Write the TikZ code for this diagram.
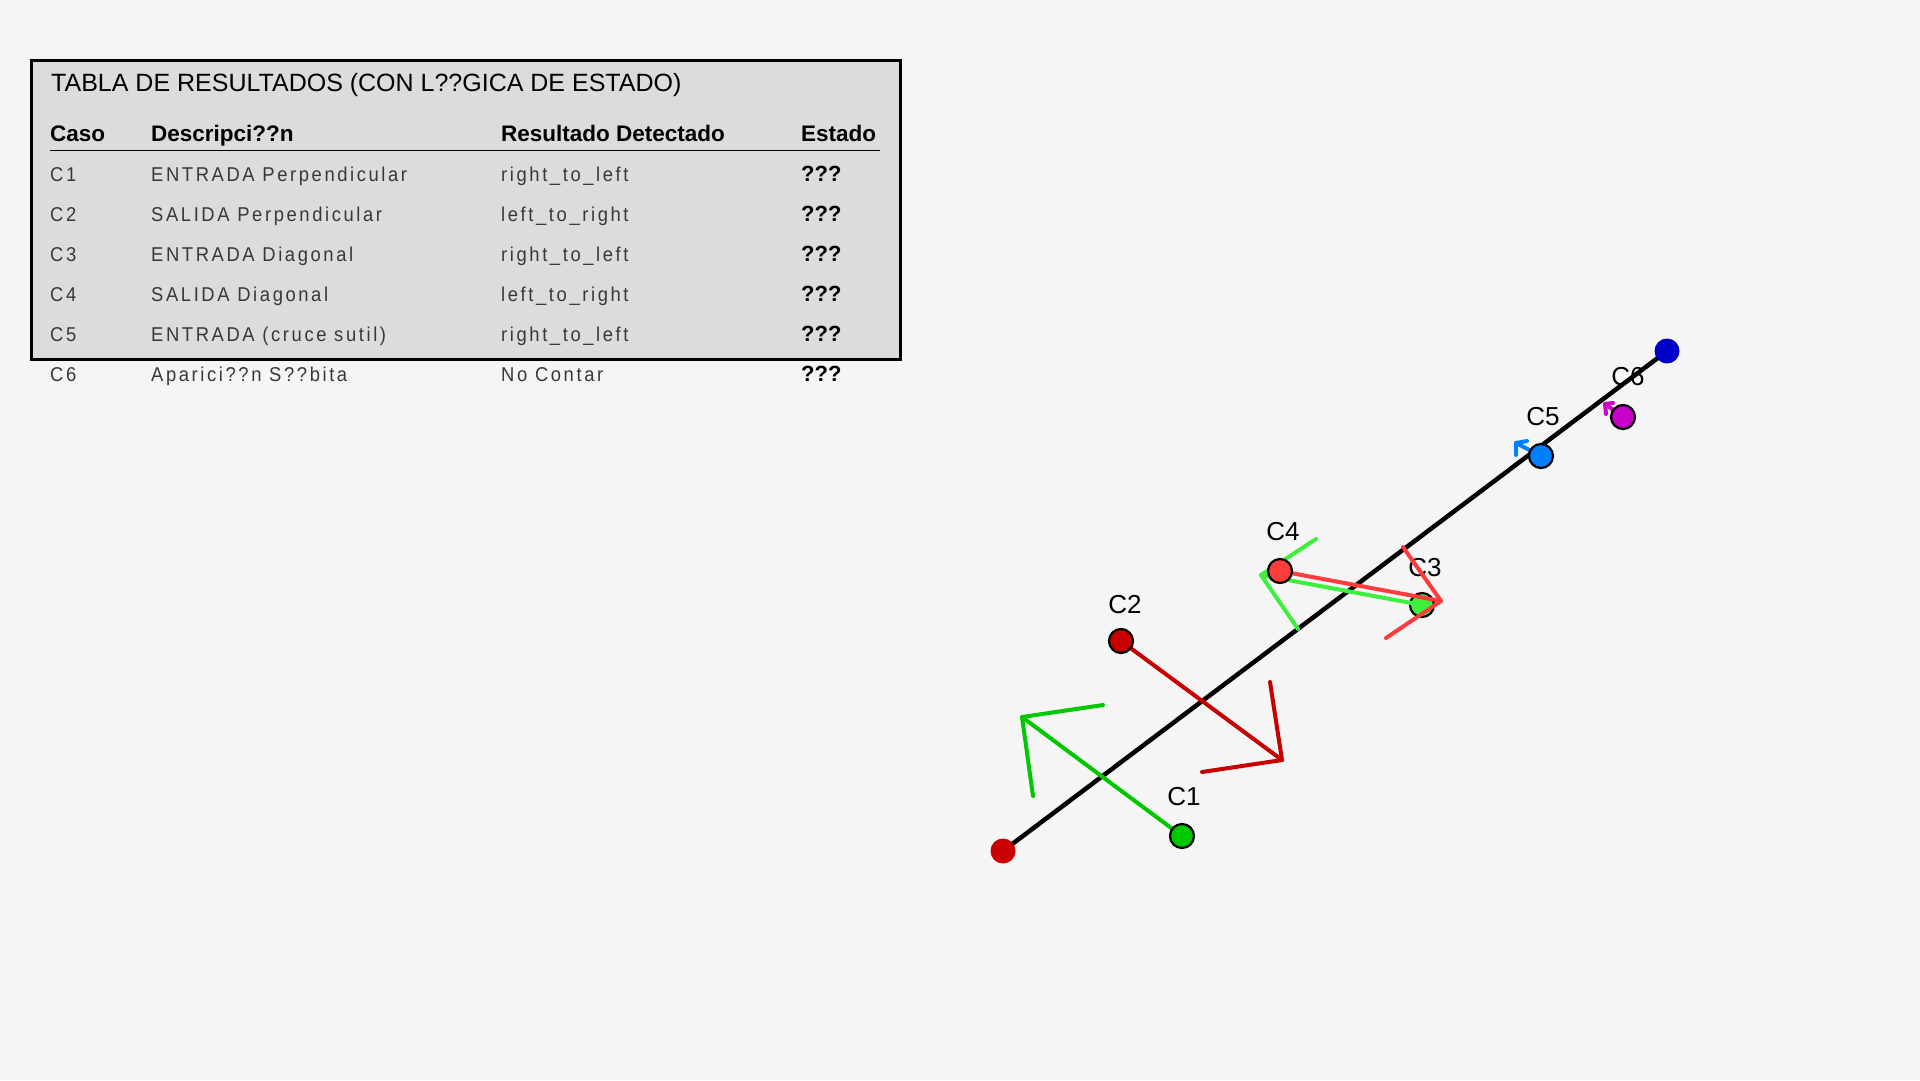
\documentclass[tikz,border=0pt]{standalone}
\usepackage{fontspec}
\setmainfont{Liberation Sans}
\newfontfamily\rowfont[FakeStretch=0.92,LetterSpace=13]{Liberation Sans}
\definecolor{bg}{HTML}{F5F5F5}
\definecolor{tabfill}{HTML}{DCDCDC}
\definecolor{rowgrey}{HTML}{383838}
\definecolor{dred}{HTML}{C80000}
\definecolor{dblue}{HTML}{0000C8}
\definecolor{greenA}{HTML}{00C800}
\definecolor{greenB}{HTML}{3CF03C}
\definecolor{redB}{HTML}{FF3C3C}
\definecolor{blueB}{HTML}{0080FF}
\definecolor{magB}{HTML}{C800C8}
\begin{document}
\begin{tikzpicture}[x=1pt,y=-1pt,
  titletxt/.style={anchor=base west,inner sep=0pt,font=\fontsize{25}{30}\selectfont},
  headtxt/.style={anchor=base west,inner sep=0pt,font=\fontsize{22.5}{27}\selectfont\bfseries},
  rowtxt/.style={anchor=base west,inner sep=0pt,text=rowgrey,font=\fontsize{20}{24}\rowfont},
  qtxt/.style={anchor=base west,inner sep=0pt,font=\fontsize{22}{26}\selectfont\bfseries},
  lbl/.style={anchor=center,inner sep=0pt,font=\fontsize{26}{30}\selectfont},
  casedot/.style={circle,draw=black,line width=2.2pt,minimum size=24pt,inner sep=0pt},
  enddot/.style={circle,minimum size=25pt,inner sep=0pt},
  arr/.style={line width=4pt,line cap=round,line join=round},
  smallarr/.style={line width=4pt,line cap=round,line join=round}
]
% canvas
\path[fill=bg] (0,0) rectangle (1920,1080);
\useasboundingbox (0,0) rectangle (1920,1080);

% ---------- table ----------
\draw[fill=tabfill,draw=black,line width=3pt] (31,60) rectangle (900,359);
\node[titletxt] (title) at (51,91.7) {TABLA DE RESULTADOS (CON L??GICA DE ESTADO)};
\node[headtxt] (hcaso) at (50,141.7) {Caso};
\node[headtxt] (hdesc) at (151,141.7) {Descripci??n};
\node[headtxt] (hres) at (501,141.7) {Resultado Detectado};
\node[headtxt] (hest) at (801,141.7) {Estado};
\coordinate (ulA) at (50,150.5);
\coordinate (ulB) at (880,150.5);
\draw[line width=1.6pt] (ulA) -- (ulB);

\foreach \k/\c/\d/\r in {0/C1/ENTRADA Perpendicular/right\_to\_left,
                         1/C2/SALIDA Perpendicular/left\_to\_right,
                         2/C3/ENTRADA Diagonal/right\_to\_left,
                         3/C4/SALIDA Diagonal/left\_to\_right,
                         4/C5/ENTRADA (cruce sutil)/right\_to\_left,
                         5/C6/Aparici??n S??bita/No Contar}{
  \node[rowtxt] (rc\k) at (50,181+40*\k) {\c};
  \node[rowtxt] (rd\k) at (151,181+40*\k) {\d};
  \node[rowtxt] (rr\k) at (501,181+40*\k) {\r};
  \node[qtxt] (rq\k) at (801,181+40*\k) {???};
}

% ---------- geometry ----------
\coordinate (pA) at (1003,851);
\coordinate (pB) at (1667,351);
\coordinate (p1) at (1182,836);
\coordinate (p2) at (1121,641);
\coordinate (p3) at (1422,605);
\coordinate (p4) at (1280,571);
\coordinate (p5) at (1541,456);
\coordinate (p6) at (1623,417);

% main line
\draw[line width=4.5pt,line cap=round] (pA) -- (pB);

% C3 dot (under arrows)
\node[casedot,fill=greenB] (c3) at (p3) {};

% labels
\node[lbl] (l1) at (1184,797) {C1};
\node[lbl] (l2) at (1125,605) {C2};
\node[lbl] (l3) at (1425,568) {C3};
\node[lbl] (l4) at (1283,532) {C4};
\node[lbl] (l5) at (1543,417) {C5};
\node[lbl] (l6) at (1628,377) {C6};

% C1 arrow
\coordinate (t1) at (1022,717);
\coordinate (b1a) at (1103,705);
\coordinate (b1b) at (1033,796);
\draw[arr,greenA] (p1) -- (t1);
\draw[arr,greenA] (b1a) -- (t1) -- (b1b);
% C2 arrow
\coordinate (t2) at (1282,760);
\coordinate (b2a) at (1270,682);
\coordinate (b2b) at (1202,772);
\draw[arr,dred] (p2) -- (t2);
\draw[arr,dred] (b2a) -- (t2) -- (b2b);
% C3 arrow
\coordinate (t3) at (1261,575);
\coordinate (b3a) at (1316,539);
\coordinate (b3b) at (1298,629);
\draw[arr,greenB] (c3.center) -- (t3);
\draw[arr,greenB] (b3a) -- (t3) -- (b3b);
% C4 arrow
\coordinate (t4) at (1441,601);
\coordinate (b4a) at (1403,547);
\coordinate (b4b) at (1386,638);
\draw[arr,redB] (p4) -- (t4);
\draw[arr,redB] (b4a) -- (t4) -- (b4b);
% C5 small arrow
\coordinate (t5) at (1516,443);
\coordinate (b5a) at (1516,455);
\coordinate (b5b) at (1527,441);
\draw[smallarr,blueB] (p5) -- (t5);
\draw[smallarr,blueB] (b5a) -- (t5) -- (b5b);
% C6 small arrow
\coordinate (t6) at (1605,404);
\coordinate (b6a) at (1606,414);
\coordinate (b6b) at (1613,403);
\draw[smallarr,magB] (p6) -- (t6);
\draw[smallarr,magB] (b6a) -- (t6) -- (b6b);

% dots
\node[enddot,fill=dred] (eA) at (pA) {};
\node[enddot,fill=dblue] (eB) at (pB) {};
\node[casedot,fill=greenA] (c1) at (p1) {};
\node[casedot,fill=dred] (c2) at (p2) {};
\node[casedot,fill=redB] (c4) at (p4) {};
\node[casedot,fill=blueB] (c5) at (p5) {};
\node[casedot,fill=magB] (c6) at (p6) {};
\end{tikzpicture}
\end{document}
